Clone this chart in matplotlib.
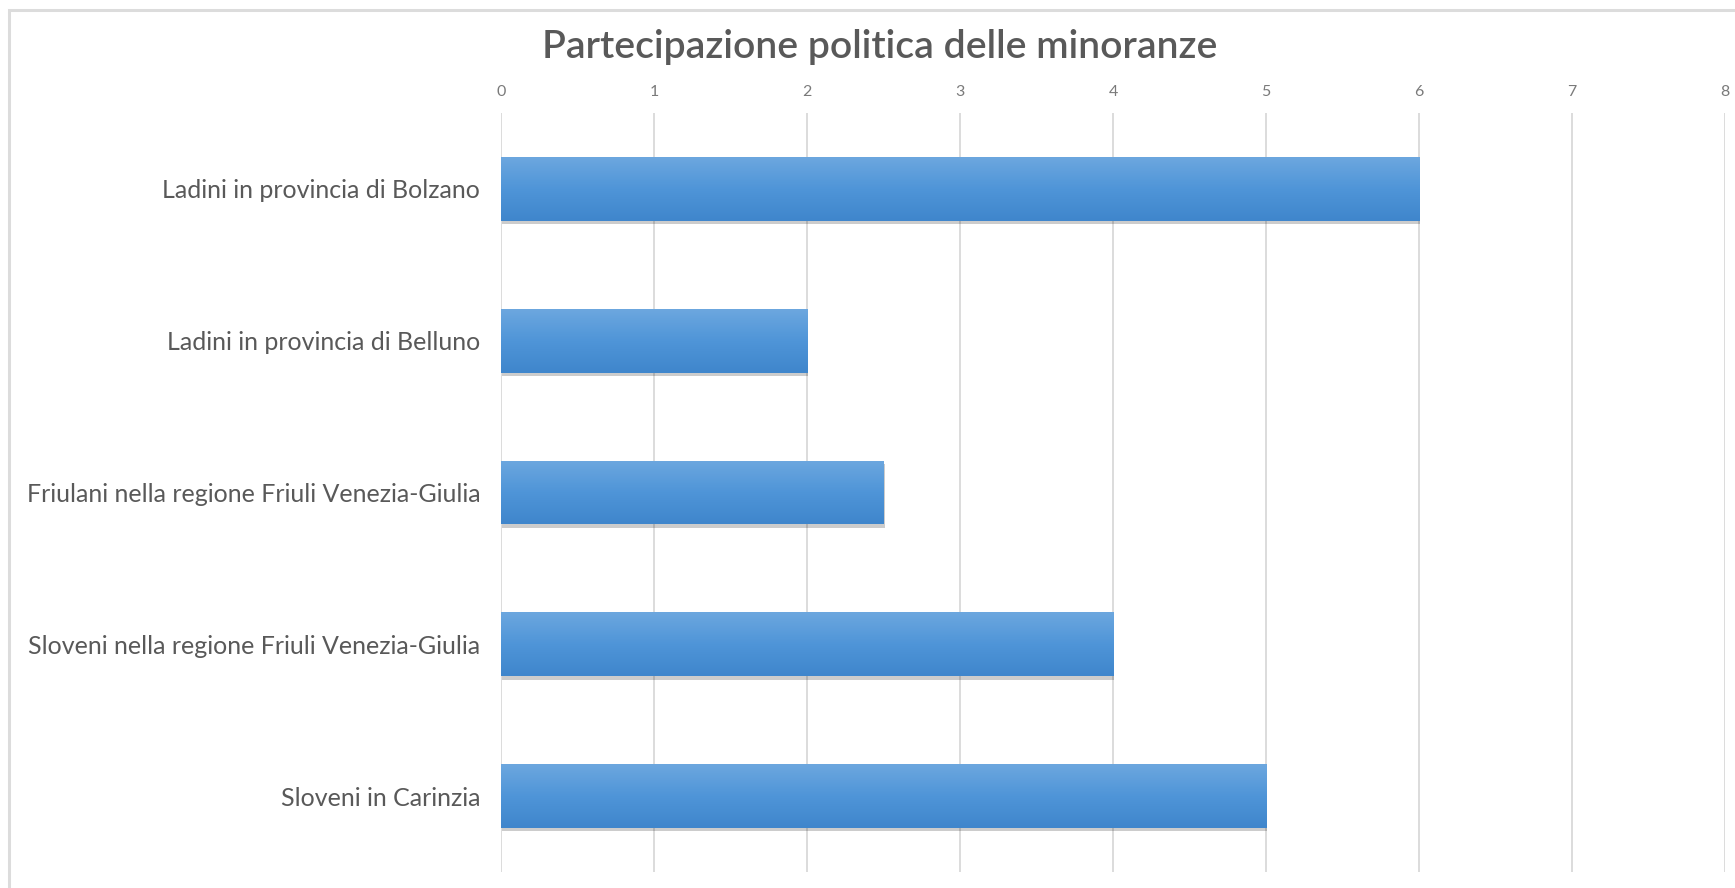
import numpy as np
import matplotlib
matplotlib.use("Agg")
import matplotlib.pyplot as plt
import matplotlib.patheffects as pe
from matplotlib.patches import Rectangle
from matplotlib.colors import LinearSegmentedColormap

# ---- data ----
title = "Partecipazione politica delle minoranze"
categories = [
    "Ladini in provincia di Bolzano",
    "Ladini in provincia di Belluno",
    "Friulani nella regione Friuli Venezia-Giulia",
    "Sloveni nella regione Friuli Venezia-Giulia",
    "Sloveni in Carinzia",
]
values = [6, 2, 2.5, 4, 5]
x_ticks = [0, 1, 2, 3, 4, 5, 6, 7, 8]

plt.rcParams['font.family'] = ['Lato', 'DejaVu Sans']

W, H = 1735, 888
fig = plt.figure(figsize=(W / 100, H / 100), dpi=100)
fig.patch.set_facecolor('white')

ax = fig.add_axes([501 / W, 1 - 872 / H, (1725 - 501) / W, (872 - 113) / H])
y = np.arange(len(categories))
bars = ax.barh(y, values, height=0.42, color='#5197da', zorder=3,
               path_effects=[pe.SimplePatchShadow(offset=(1.0, -2.5), shadow_rgbFace='#000000', alpha=0.2),
                             pe.Normal()])

cmap = LinearSegmentedColormap.from_list('g', ['#6ca7df', '#4f95d8', '#3f86cc'])
grad = np.linspace(0, 1, 100).reshape(-1, 1)
for b in bars:
    x0, y0, w, h = b.get_x(), b.get_y(), b.get_width(), b.get_height()
    im = ax.imshow(grad, cmap=cmap, extent=(x0, x0 + w, y0 + h, y0), origin='upper',
                   aspect='auto', zorder=4, interpolation='bicubic')
    im.set_clip_path(b)

ax.set_xlim(x_ticks[0], x_ticks[-1])
ax.set_ylim(len(categories) - 0.5, -0.5)
ax.set_xticks(x_ticks)
ax.set_xticklabels([str(t) for t in x_ticks])
ax.set_yticks(y)
ax.set_yticklabels(categories)
ax.xaxis.tick_top()
ax.set_axisbelow(True)
ax.xaxis.grid(True, color='#d9d9d9', lw=1.3, zorder=0)
ax.yaxis.grid(False)
for s in ax.spines.values():
    s.set_visible(False)
ax.tick_params(axis='x', length=0, pad=10, labelsize=11.5, labelcolor='#7a7a7a')
ax.tick_params(axis='y', length=0, pad=15, labelsize=14, labelcolor='#595959')

t = fig.text(880 / W, 1 - 58 / H, title, ha='center', va='baseline',
             fontsize=24, weight='semibold', color='#595959')

# frame
fig.add_artist(Rectangle((9 / W, -0.2), 1.5, 1.2 - 10 / H, transform=fig.transFigure,
                         fill=False, ec='#dcdcdc', lw=2.2))

# fit text sizes to measured pixel widths
fig.canvas.draw()
r = fig.canvas.get_renderer()
wt = t.get_window_extent(r).width
t.set_fontsize(t.get_fontsize() * 675 / wt)
labs = ax.get_yticklabels()
wl = max(l.get_window_extent(r).width for l in labs)
ax.tick_params(axis='y', labelsize=14 * 457 / wl)

fig.savefig('out.png', dpi=100, facecolor='white')
